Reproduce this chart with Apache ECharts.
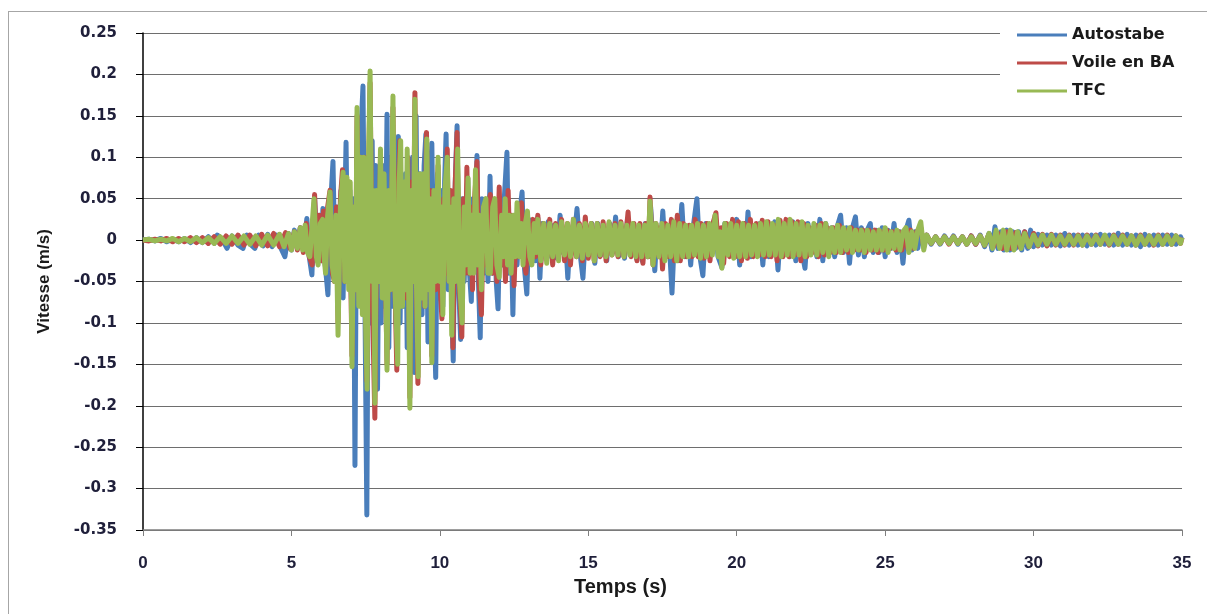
<!DOCTYPE html>
<html>
<head>
<meta charset="utf-8">
<title>Vitesse</title>
<script src="https://cdn.jsdelivr.net/npm/echarts@6/dist/echarts.min.js"></script>
<style>
  html, body { margin: 0; padding: 0; background: #fff; }
  #frame { position: absolute; left: 8px; top: 11px; right: -2px; bottom: -2px;
           border-left: 1px solid #a6a6a6; border-top: 1px solid #a6a6a6; }
  #vitesse { position: absolute; left: 0; top: 0; width: 1207px; height: 614px; }
</style>
</head>
<body>
<div id="frame"></div>
<div id="vitesse"></div>
<script>
  // [temps (s), vitesse (m/s)]
  const autostabe = [
    [0,0],[0.2,0.001],[0.4,-0.001],[0.6,0.002],[0.8,-0.002],[1.0,0.001],[1.2,-0.002],[1.4,0.002],[1.6,-0.003],[1.8,0.003],
    [2.0,-0.003],[2.2,0.004],[2.4,-0.004],[2.5,0.006],[2.65,0.002],[2.83,-0.01],[3.0,0.005],[3.2,-0.006],[3.37,-0.01],[3.5,0.006],
    [3.65,-0.006],[3.77,-0.01],[3.9,0.006],[4.05,-0.007],[4.2,0.007],[4.35,-0.008],[4.5,0.006],[4.65,-0.01],[4.78,-0.02],[4.9,0.008],
    [5.0,-0.012],[5.1,0.012],[5.2,-0.008],[5.3,0.015],[5.4,-0.01],[5.52,0.026],[5.6,-0.02],[5.69,-0.042],[5.78,0.05],[5.86,-0.01],
    [5.93,0.03],[6.0,-0.025],[6.06,0.038],[6.14,-0.03],[6.23,-0.066],[6.3,0.03],[6.4,0.095],[6.47,-0.04],[6.54,0.04],[6.6,-0.05],
    [6.67,0.06],[6.74,-0.07],[6.84,0.118],[6.9,-0.05],[6.97,0.06],[7.03,-0.09],[7.09,0.05],[7.14,-0.272],[7.2,0.1],[7.26,-0.06],
    [7.33,0.12],[7.41,0.186],[7.47,-0.05],[7.54,-0.332],[7.6,0.08],[7.66,-0.1],[7.72,0.12],[7.78,-0.12],[7.84,0.09],[7.9,-0.18],
    [7.96,0.08],[8.02,-0.1],[8.08,0.09],[8.15,-0.08],[8.22,0.152],[8.28,-0.13],[8.34,0.1],[8.4,-0.08],[8.46,0.09],[8.52,-0.1],
    [8.6,0.125],[8.66,-0.1],[8.72,0.07],[8.78,-0.08],[8.84,0.08],[8.9,-0.13],[8.96,0.09],[9.02,-0.12],[9.08,0.1],[9.14,-0.16],
    [9.2,0.15],[9.27,-0.15],[9.33,0.08],[9.4,-0.09],[9.47,0.09],[9.53,0.128],[9.6,-0.123],[9.66,0.05],[9.73,0.117],[9.8,-0.08],
    [9.86,-0.166],[9.92,0.08],[9.98,-0.07],[10.04,0.06],[10.1,-0.08],[10.16,0.07],[10.21,0.128],[10.28,-0.06],[10.34,0.05],[10.4,-0.08],
    [10.45,-0.146],[10.52,0.07],[10.58,0.138],[10.64,-0.06],[10.7,-0.12],[10.76,0.05],[10.82,-0.05],[10.88,0.04],[10.94,0.075],[11.0,-0.04],
    [11.06,-0.074],[11.12,0.05],[11.19,-0.03],[11.25,0.102],[11.3,-0.05],[11.36,-0.118],[11.42,0.05],[11.48,-0.04],[11.55,0.04],[11.62,-0.05],
    [11.69,0.077],[11.76,-0.04],[11.83,0.04],[11.9,-0.05],[11.96,-0.083],[12.03,0.04],[12.1,-0.03],[12.17,0.05],[12.26,0.106],[12.32,-0.04],
    [12.39,0.03],[12.46,-0.09],[12.53,0.03],[12.6,-0.03],[12.68,0.03],[12.77,0.058],[12.84,-0.03],[12.93,-0.065],[13.0,0.025],[13.07,-0.02],
    [13.15,0.02],[13.22,-0.025],[13.3,0.027],[13.37,-0.046],[13.45,0.02],[13.55,-0.015],[13.65,0.022],[13.75,-0.02],[13.85,0.018],[13.95,-0.022],
    [14.05,0.03],[14.15,-0.015],[14.22,0.012],[14.31,-0.046],[14.4,0.012],[14.5,-0.01],[14.62,0.038],[14.72,-0.015],[14.82,-0.046],[14.92,0.018],
    [15.02,-0.015],[15.12,0.02],[15.22,-0.028],[15.32,0.02],[15.42,-0.018],[15.52,0.015],[15.62,-0.025],[15.72,0.02],[15.82,-0.015],[15.92,0.028],
    [16.02,-0.02],[16.12,0.015],[16.22,-0.022],[16.32,0.025],[16.42,-0.018],[16.52,0.015],[16.62,-0.022],[16.72,0.018],[16.82,-0.025],[16.92,0.02],
    [17.0,-0.02],[17.1,0.04],[17.24,-0.037],[17.32,0.015],[17.42,-0.02],[17.51,0.035],[17.6,-0.02],[17.7,0.015],[17.82,-0.064],[17.92,0.02],
    [18.02,-0.025],[18.15,0.043],[18.25,-0.02],[18.35,0.015],[18.45,-0.03],[18.55,0.02],[18.66,0.05],[18.76,-0.02],[18.86,-0.043],[18.96,0.02],
    [19.06,-0.02],[19.16,0.015],[19.27,0.026],[19.37,-0.02],[19.5,-0.033],[19.6,0.02],[19.7,-0.015],[19.8,0.018],[19.9,-0.02],[20.0,0.025],
    [20.1,-0.03],[20.2,0.015],[20.3,-0.015],[20.38,0.034],[20.48,-0.02],[20.58,0.015],[20.68,-0.018],[20.78,0.02],[20.88,-0.03],[20.98,0.02],
    [21.08,-0.02],[21.18,0.015],[21.28,0.022],[21.39,-0.036],[21.49,0.02],[21.59,-0.015],[21.69,0.02],[21.79,-0.02],[21.89,0.022],[21.99,-0.025],
    [22.09,0.02],[22.2,-0.015],[22.3,-0.034],[22.4,0.02],[22.5,-0.015],[22.6,0.015],[22.7,-0.02],[22.8,0.025],[22.9,-0.025],[23.0,0.02],
    [23.1,-0.015],[23.2,0.015],[23.3,-0.02],[23.4,0.018],[23.5,0.03],[23.6,-0.015],[23.7,0.015],[23.8,-0.028],[23.9,0.015],[24.0,0.028],
    [24.1,-0.018],[24.2,0.015],[24.3,-0.02],[24.4,0.012],[24.5,0.02],[24.6,-0.015],[24.7,0.012],[24.8,-0.015],[24.9,0.015],[25.0,-0.02],
    [25.1,0.012],[25.2,-0.01],[25.3,0.02],[25.4,-0.015],[25.5,0.01],[25.6,-0.028],[25.7,0.012],[25.8,0.024],[25.9,-0.012],[26.0,0.01],
    [26.1,-0.01],[26.2,0.01],[26.3,-0.008],[26.4,0.006],[26.55,-0.005],[26.7,0.004],[26.85,-0.005],[27.0,0.005],[27.15,-0.004],[27.3,0.005],
    [27.45,-0.005],[27.6,0.004],[27.75,-0.005],[27.9,0.005],[28.05,-0.005],[28.2,0.006],[28.35,-0.008],[28.5,0.008],[28.6,-0.012],[28.7,0.016],
    [28.8,-0.01],[28.9,0.01],[29.0,-0.012],[29.1,0.012],[29.2,-0.012],[29.3,0.01],[29.4,-0.01],[29.5,0.01],[29.6,-0.012],[29.7,0.01],
    [29.8,-0.01],[29.9,0.012],[30.0,-0.008],[30.15,0.007],[30.3,-0.006],[30.45,0.006],[30.6,-0.006],[30.75,0.006],[30.9,-0.007],[31.05,0.008],
    [31.2,-0.006],[31.35,0.006],[31.5,-0.006],[31.65,0.006],[31.8,-0.007],[31.95,0.006],[32.1,-0.006],[32.25,0.007],[32.4,-0.005],[32.55,0.006],
    [32.7,-0.006],[32.85,0.008],[33.0,-0.006],[33.15,0.007],[33.3,-0.006],[33.45,0.006],[33.6,-0.008],[33.75,0.007],[33.9,-0.006],[34.05,0.006],
    [34.2,-0.006],[34.35,0.006],[34.5,-0.005],[34.65,0.006],[34.8,-0.005],[34.95,0.004],[35,0]
  ];

  const voileBA = [
    [0,0],[0.2,-0.001],[0.4,0.001],[0.6,-0.001],[0.8,0.002],[1.0,-0.002],[1.2,0.002],[1.4,-0.002],[1.6,0.003],[1.8,-0.003],
    [2.0,0.003],[2.2,-0.004],[2.4,0.004],[2.6,-0.005],[2.8,0.005],[3.0,-0.005],[3.2,0.006],[3.4,-0.006],[3.6,0.006],[3.8,-0.007],
    [4.0,0.007],[4.2,-0.007],[4.4,0.008],[4.6,-0.008],[4.8,0.009],[4.95,-0.01],[5.1,0.01],[5.2,-0.012],[5.3,0.015],[5.4,-0.015],
    [5.5,0.02],[5.6,-0.02],[5.7,-0.03],[5.78,0.055],[5.86,-0.02],[5.94,0.03],[6.02,-0.025],[6.08,0.035],[6.15,-0.035],[6.22,0.04],
    [6.3,0.06],[6.38,-0.04],[6.45,-0.05],[6.52,0.04],[6.57,-0.1],[6.65,0.05],[6.72,0.085],[6.8,-0.05],[6.88,0.05],[6.95,0.07],
    [7.04,-0.14],[7.1,0.04],[7.16,-0.06],[7.21,0.15],[7.28,-0.07],[7.34,0.1],[7.4,-0.08],[7.46,0.1],[7.54,-0.17],[7.6,0.08],
    [7.65,0.19],[7.72,-0.06],[7.81,-0.215],[7.88,0.05],[7.94,-0.05],[8.0,0.1],[8.06,-0.05],[8.12,0.06],[8.22,-0.15],[8.28,0.05],
    [8.34,-0.06],[8.42,0.16],[8.48,-0.04],[8.55,-0.157],[8.6,0.06],[8.65,0.12],[8.72,-0.07],[8.8,0.06],[8.86,-0.07],[8.92,0.1],
    [8.99,-0.19],[9.05,0.07],[9.1,-0.05],[9.16,0.178],[9.21,-0.05],[9.26,-0.173],[9.32,0.07],[9.38,-0.06],[9.44,0.07],[9.49,-0.08],
    [9.55,0.13],[9.62,-0.05],[9.68,0.06],[9.73,-0.14],[9.8,0.05],[9.86,-0.06],[9.94,0.09],[10.0,-0.05],[10.07,-0.095],[10.13,0.05],
    [10.19,-0.04],[10.25,0.11],[10.31,-0.05],[10.37,0.06],[10.44,-0.13],[10.51,0.06],[10.58,0.13],[10.65,-0.05],[10.74,-0.117],[10.8,0.05],
    [10.86,-0.04],[10.91,0.088],[10.98,-0.04],[11.04,0.04],[11.1,-0.06],[11.17,0.05],[11.25,0.095],[11.32,-0.05],[11.4,-0.09],[11.47,0.04],
    [11.54,-0.03],[11.62,0.04],[11.7,0.055],[11.78,-0.04],[11.85,0.04],[11.92,-0.05],[12.0,0.064],[12.07,-0.03],[12.14,0.03],[12.21,-0.05],
    [12.3,0.06],[12.37,-0.03],[12.43,0.03],[12.5,-0.055],[12.58,0.03],[12.66,-0.02],[12.75,0.045],[12.82,-0.02],[12.9,-0.04],[12.98,0.02],
    [13.06,-0.025],[13.14,0.025],[13.22,-0.02],[13.3,0.03],[13.4,-0.03],[13.5,0.02],[13.6,-0.02],[13.7,0.025],[13.8,-0.03],[13.9,0.02],
    [14.0,-0.018],[14.1,0.025],[14.2,-0.025],[14.3,0.02],[14.4,-0.03],[14.5,0.025],[14.6,-0.02],[14.7,0.02],[14.8,-0.025],[14.9,0.028],
    [15.0,-0.022],[15.1,0.02],[15.2,-0.025],[15.3,0.02],[15.4,-0.02],[15.5,0.022],[15.6,-0.025],[15.7,0.02],[15.8,-0.018],[15.9,0.02],
    [16.0,-0.02],[16.1,0.022],[16.2,-0.02],[16.34,0.034],[16.44,-0.02],[16.54,0.02],[16.64,-0.025],[16.74,0.02],[16.84,-0.028],[16.94,0.02],
    [17.02,-0.02],[17.08,0.052],[17.18,-0.03],[17.28,0.02],[17.38,-0.02],[17.44,0.015],[17.5,-0.035],[17.6,0.02],[17.7,-0.02],[17.8,0.025],
    [17.9,-0.025],[18.0,0.03],[18.1,-0.025],[18.2,0.02],[18.3,-0.02],[18.4,0.018],[18.5,-0.02],[18.6,0.025],[18.7,-0.02],[18.8,0.02],
    [18.9,-0.022],[19.0,0.02],[19.1,-0.025],[19.2,0.02],[19.3,0.033],[19.4,-0.02],[19.48,0.015],[19.56,-0.028],[19.66,0.02],[19.76,-0.02],
    [19.86,0.025],[19.96,-0.02],[20.06,0.022],[20.16,-0.025],[20.26,0.02],[20.36,-0.022],[20.46,0.025],[20.56,-0.02],[20.66,0.02],[20.76,-0.018],
    [20.86,0.024],[20.96,-0.02],[21.06,0.022],[21.16,-0.02],[21.26,0.018],[21.36,-0.025],[21.46,0.024],[21.56,-0.02],[21.66,0.025],[21.76,-0.02],
    [21.86,0.022],[21.96,-0.018],[22.06,0.022],[22.16,-0.025],[22.26,0.02],[22.36,-0.02],[22.46,0.015],[22.56,-0.015],[22.66,0.018],[22.76,-0.02],
    [22.86,0.02],[22.96,-0.018],[23.06,0.015],[23.16,-0.015],[23.26,0.015],[23.36,-0.015],[23.46,0.018],[23.56,-0.015],[23.66,0.012],[23.76,-0.015],
    [23.86,0.015],[23.96,-0.012],[24.06,0.012],[24.16,-0.012],[24.26,0.012],[24.36,-0.015],[24.46,0.012],[24.56,-0.012],[24.66,0.012],[24.76,-0.015],
    [24.86,0.01],[24.96,-0.012],[25.06,0.012],[25.16,-0.01],[25.26,0.01],[25.36,-0.012],[25.46,0.01],[25.56,-0.012],[25.66,0.01],[25.76,-0.01],
    [25.86,0.012],[25.96,-0.01],[26.06,0.01],[26.2,0.015],[26.3,-0.008],[26.4,0.006],[26.55,-0.004],[26.7,0.004],[26.85,-0.004],[27.0,0.004],
    [27.15,-0.005],[27.3,0.004],[27.45,-0.004],[27.6,0.004],[27.75,-0.005],[27.9,0.005],[28.05,-0.005],[28.2,0.005],[28.35,-0.006],[28.5,0.007],
    [28.65,-0.008],[28.8,0.008],[28.95,-0.01],[29.1,0.01],[29.25,-0.01],[29.4,0.009],[29.55,-0.009],[29.7,0.01],[29.85,-0.008],[30.0,0.008],
    [30.15,-0.007],[30.3,0.007],[30.45,-0.007],[30.6,0.007],[30.75,-0.006],[30.9,0.006],[31.05,-0.006],[31.2,0.006],[31.35,-0.006],[31.5,0.006],
    [31.65,-0.006],[31.8,0.006],[31.95,-0.005],[32.1,0.006],[32.25,-0.005],[32.4,0.005],[32.55,-0.006],[32.7,0.006],[32.85,-0.005],[33.0,0.006],
    [33.15,-0.005],[33.3,0.005],[33.45,-0.006],[33.6,0.006],[33.75,-0.005],[33.9,0.005],[34.05,-0.006],[34.2,0.006],[34.35,-0.005],[34.5,0.006],
    [34.65,-0.005],[34.8,0.005],[34.95,-0.004],[35,0.003]
  ];

  const tfc = [
    [0,0],[0.2,0.001],[0.4,-0.001],[0.6,0.001],[0.8,-0.001],[1.0,0.002],[1.2,-0.002],[1.4,0.002],[1.6,-0.002],[1.8,0.003],
    [2.0,-0.003],[2.2,0.003],[2.4,-0.004],[2.6,0.004],[2.8,-0.004],[3.0,0.005],[3.2,-0.004],[3.4,0.005],[3.6,-0.005],[3.8,0.005],
    [4.0,-0.006],[4.2,0.006],[4.4,-0.006],[4.6,0.007],[4.75,-0.008],[4.9,0.008],[5.0,-0.012],[5.1,0.01],[5.2,-0.01],[5.3,0.015],
    [5.38,-0.012],[5.46,0.018],[5.54,-0.015],[5.62,-0.02],[5.7,0.02],[5.76,0.05],[5.84,-0.02],[5.9,-0.03],[5.97,0.02],[6.05,0.025],
    [6.1,-0.02],[6.15,-0.04],[6.22,0.03],[6.3,0.058],[6.37,-0.03],[6.45,-0.05],[6.5,0.03],[6.57,-0.115],[6.65,0.04],[6.74,0.082],
    [6.8,-0.05],[6.87,0.076],[6.93,-0.06],[6.98,0.07],[7.04,-0.153],[7.1,0.04],[7.16,-0.06],[7.21,0.16],[7.27,-0.08],[7.33,0.1],
    [7.39,-0.09],[7.44,0.1],[7.5,-0.1],[7.55,-0.18],[7.6,0.1],[7.65,0.204],[7.71,-0.05],[7.76,0.06],[7.81,-0.197],[7.87,0.06],
    [7.93,-0.05],[8.0,0.11],[8.06,-0.07],[8.12,0.08],[8.22,-0.157],[8.28,0.06],[8.34,-0.06],[8.42,0.174],[8.48,-0.05],[8.58,-0.15],
    [8.63,0.07],[8.68,0.12],[8.74,-0.08],[8.8,0.07],[8.85,-0.06],[8.9,0.11],[8.99,-0.203],[9.04,0.06],[9.1,-0.05],[9.16,0.17],
    [9.21,-0.05],[9.27,-0.165],[9.33,0.08],[9.39,-0.07],[9.45,0.08],[9.5,-0.08],[9.56,0.122],[9.62,-0.06],[9.67,0.05],[9.73,-0.148],
    [9.8,0.06],[9.86,-0.05],[9.94,0.1],[10.0,-0.05],[10.05,0.04],[10.1,-0.09],[10.17,0.06],[10.25,0.1],[10.31,-0.05],[10.35,0.04],
    [10.4,-0.115],[10.47,0.05],[10.53,-0.05],[10.6,0.11],[10.66,-0.05],[10.75,-0.1],[10.82,0.04],[10.88,-0.03],[10.95,0.075],[11.02,-0.04],
    [11.08,0.03],[11.14,-0.04],[11.2,0.085],[11.27,-0.03],[11.33,0.03],[11.4,-0.06],[11.47,0.04],[11.55,0.05],[11.62,-0.04],[11.7,-0.04],
    [11.78,0.04],[11.85,0.05],[11.92,-0.03],[12.0,-0.045],[12.08,0.03],[12.14,-0.02],[12.2,0.05],[12.28,-0.03],[12.34,0.03],[12.4,-0.04],
    [12.48,0.03],[12.54,-0.02],[12.6,0.045],[12.68,-0.02],[12.75,0.02],[12.8,-0.03],[12.88,0.02],[12.95,0.035],[13.03,-0.02],[13.1,-0.03],
    [13.18,0.02],[13.24,-0.015],[13.3,0.025],[13.4,-0.025],[13.5,0.02],[13.6,-0.028],[13.7,0.02],[13.8,-0.02],[13.9,0.018],[14.0,-0.025],
    [14.1,0.022],[14.2,-0.018],[14.3,0.02],[14.4,-0.02],[14.5,0.025],[14.6,-0.02],[14.7,0.018],[14.8,-0.022],[14.9,0.02],[15.0,-0.018],
    [15.1,0.02],[15.2,-0.025],[15.3,0.02],[15.4,-0.018],[15.5,0.018],[15.6,-0.02],[15.7,0.022],[15.8,-0.018],[15.9,0.018],[16.0,-0.018],
    [16.1,0.02],[16.2,-0.02],[16.3,0.018],[16.4,-0.018],[16.5,0.02],[16.6,-0.02],[16.7,0.018],[16.8,-0.02],[16.9,0.018],[17.0,-0.02],
    [17.08,0.047],[17.18,-0.03],[17.28,0.02],[17.38,-0.02],[17.48,0.02],[17.58,-0.025],[17.68,0.018],[17.78,-0.02],[17.88,0.022],[17.98,-0.025],
    [18.08,0.02],[18.18,-0.02],[18.28,0.018],[18.38,-0.02],[18.48,0.018],[18.58,-0.018],[18.68,0.02],[18.78,-0.022],[18.88,0.018],[18.98,-0.02],
    [19.08,0.02],[19.18,-0.018],[19.27,0.03],[19.38,-0.02],[19.44,0.01],[19.5,-0.034],[19.6,0.02],[19.7,-0.018],[19.8,0.02],[19.9,-0.022],
    [20.0,0.018],[20.1,-0.02],[20.2,0.02],[20.3,-0.02],[20.4,0.018],[20.5,-0.018],[20.6,0.018],[20.7,-0.02],[20.8,0.02],[20.9,-0.018],
    [21.0,0.022],[21.1,-0.018],[21.2,0.02],[21.3,-0.018],[21.4,0.025],[21.5,-0.02],[21.6,0.02],[21.7,-0.018],[21.8,0.025],[21.9,-0.02],
    [22.0,0.02],[22.1,-0.018],[22.2,0.022],[22.3,-0.02],[22.4,0.018],[22.5,-0.018],[22.6,0.02],[22.7,-0.018],[22.8,0.018],[22.9,-0.015],
    [23.0,0.02],[23.1,-0.02],[23.2,0.015],[23.3,-0.015],[23.4,0.018],[23.5,-0.015],[23.6,0.015],[23.7,-0.012],[23.8,0.015],[23.9,-0.015],
    [24.0,0.012],[24.1,-0.012],[24.2,0.012],[24.3,-0.015],[24.4,0.012],[24.5,-0.012],[24.6,0.01],[24.7,-0.012],[24.8,0.012],[24.9,-0.012],
    [25.0,0.015],[25.1,-0.015],[25.2,0.01],[25.3,-0.01],[25.4,0.012],[25.5,-0.012],[25.6,0.01],[25.7,0.015],[25.8,-0.015],[25.9,0.01],
    [26.0,-0.01],[26.1,0.012],[26.2,0.022],[26.3,-0.012],[26.4,0.006],[26.55,-0.004],[26.7,0.004],[26.85,-0.004],[27.0,0.004],[27.15,-0.004],
    [27.3,0.004],[27.45,-0.004],[27.6,0.004],[27.75,-0.005],[27.9,0.004],[28.05,-0.004],[28.2,0.005],[28.35,-0.006],[28.5,0.008],[28.62,-0.01],
    [28.74,0.012],[28.86,-0.01],[28.98,0.012],[29.1,-0.012],[29.22,0.012],[29.34,-0.012],[29.46,0.01],[29.58,-0.01],[29.7,0.008],[29.85,-0.008],
    [30.0,0.006],[30.15,-0.006],[30.3,0.006],[30.45,-0.005],[30.6,0.006],[30.75,-0.005],[30.9,0.005],[31.05,-0.005],[31.2,0.005],[31.35,-0.005],
    [31.5,0.005],[31.65,-0.006],[31.8,0.005],[31.95,-0.005],[32.1,0.005],[32.25,-0.005],[32.4,0.006],[32.55,-0.005],[32.7,0.005],[32.85,-0.005],
    [33.0,0.005],[33.15,-0.005],[33.3,0.005],[33.45,-0.006],[33.6,0.005],[33.75,-0.005],[33.9,0.005],[34.05,-0.005],[34.2,0.005],[34.35,-0.005],
    [34.5,0.005],[34.65,-0.005],[34.8,0.005],[34.95,-0.004],[35,0.003]
  ];

  const seriesNames = ['Autostabe', 'Voile en BA', 'TFC'];
  const seriesColors = ['#4a7ebb', '#be4b48', '#98b954'];
  const seriesData = [autostabe, voileBA, tfc];

  const chart = echarts.init(document.getElementById('vitesse'));

  const option = {
    animation: false,
    color: seriesColors,
    grid: { left: 143, right: 25, top: 33, bottom: 84 },
    legend: {
      data: seriesNames,
      orient: 'vertical',
      left: 1000,
      top: 18,
      padding: [9, 12, 9, 17],
      backgroundColor: '#fff',
      itemWidth: 50,
      itemHeight: 3,
      itemGap: 12,
      icon: 'rect',
      textStyle: { fontFamily: 'DejaVu Sans', fontSize: 16, fontWeight: 'bold', color: '#1a1a1a' }
    },
    xAxis: {
      type: 'value',
      min: 0,
      max: 35,
      interval: 5,
      name: 'Temps (s)',
      nameLocation: 'middle',
      nameGap: 47,
      nameTextStyle: { fontFamily: 'Liberation Sans', fontSize: 20, fontWeight: 'bold', color: '#1a1a1a', padding: [0, 84, 0, 0] },
      axisLine: { onZero: false, lineStyle: { color: '#7f7f7f', width: 1.5 } },
      axisTick: { show: true, length: 6, lineStyle: { color: '#7f7f7f' } },
      axisLabel: { margin: 25, fontFamily: 'Liberation Sans', fontSize: 17, fontWeight: 'bold', color: '#1f1f3a' },
      splitLine: { show: false }
    },
    yAxis: {
      type: 'value',
      min: -0.35,
      max: 0.25,
      interval: 0.05,
      name: 'Vitesse (m/s)',
      nameLocation: 'middle',
      nameGap: 90,
      nameTextStyle: { fontFamily: 'Liberation Sans', fontSize: 17, fontWeight: 'bold', color: '#1a1a1a' },
      axisLine: { show: true, lineStyle: { color: '#000', width: 1.5 } },
      axisTick: { show: true, length: 7, lineStyle: { color: '#000' } },
      axisLabel: {
        margin: 26,
        fontFamily: 'DejaVu Sans',
        fontSize: 15,
        fontWeight: 'bold',
        color: '#1f1f3a',
        formatter: function (v) { return String(Number(v.toFixed(2))); }
      },
      splitLine: { show: true, lineStyle: { color: '#6e6e6e', width: 1.2 } }
    },
    series: seriesNames.map(function (name, i) {
      return {
        name: name,
        type: 'line',
        data: seriesData[i],
        showSymbol: false,
        symbol: 'none',
        lineStyle: { width: 5, color: seriesColors[i], join: 'round' },
        z: 2 + i
      };
    })
  };

  chart.setOption(option);
</script>
</body>
</html>
